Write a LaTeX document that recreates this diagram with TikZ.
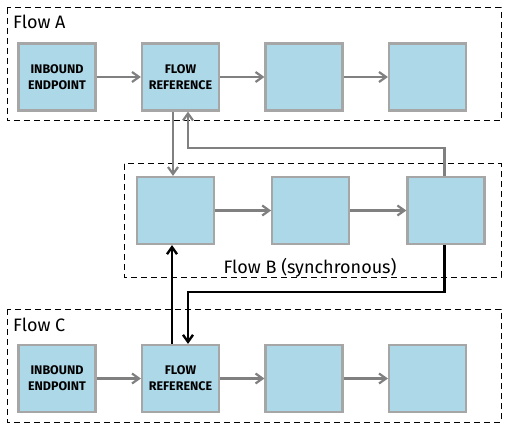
\documentclass[tikz,border=0pt]{standalone}
\usepackage{fontspec}
\setmainfont{Fira Sans}
\usetikzlibrary{positioning, arrows.meta}
\definecolor{boxblue}{HTML}{ADD8E8}
\definecolor{boxgray}{HTML}{A6A6A6}
\definecolor{linegray}{HTML}{808080}

\begin{document}
\begin{tikzpicture}[x=1pt, y=-1pt,
	block/.style={draw=boxgray, fill=boxblue, line width=2.2pt,
		minimum width=77pt, minimum height=67pt, inner sep=0pt,
		align=center, font=\fontsize{12.5}{16}\selectfont\bfseries},
	flow/.style={draw, dash pattern=on 6pt off 4pt, line width=1pt},
	title/.style={font=\fontsize{18}{20}\selectfont, inner sep=0pt},
	link/.style={draw=linegray, line width=2.2pt,
		-{Straight Barb[length=7pt, width=10pt]}},
	call/.style={draw=black, line width=2.4pt,
		-{Straight Barb[length=7pt, width=10pt]}},
	node distance=44.3pt]

\useasboundingbox (0,0) rectangle (507,428);

% flows
\draw[flow] (7,8) rectangle (501,121);
\draw[flow] (124,164) rectangle (501,277);
\draw[flow] (7,309) rectangle (501,422);

\node[title, anchor=base west] (titleA) at (13,29) {Flow A};
\node[title, anchor=base] (titleB) at (310,273) {Flow B (synchronous)};
\node[title, anchor=base west] (titleC) at (13,331) {Flow C};

% flow A
\node[block] (a1) at (57,77) {INBOUND\\ENDPOINT};
\node[block, right=of a1] (a2) {FLOW\\REFERENCE};
\node[block, right=of a2] (a3) {};
\node[block, right=of a3] (a4) {};

% flow B
\node[block] (b1) at (175.5,210.5) {};
\node[block, right=56pt of b1] (b2) {};
\node[block, right=56pt of b2] (b3) {};

% flow C
\node[block] (c1) at (57,378.5) {INBOUND\\ENDPOINT};
\node[block, right=of c1] (c2) {FLOW\\REFERENCE};
\node[block, right=of c2] (c3) {};
\node[block, right=of c3] (c4) {};

\coordinate (backA) at (0,148);
\coordinate (backC) at (0,292);

\draw[link] (a1) -- (a2);
\draw[link] (a2) -- (a3);
\draw[link] (a3) -- (a4);
\draw[link] (b1) -- (b2);
\draw[link] (b2) -- (b3);
\draw[link] (c1) -- (c2);
\draw[link] (c2) -- (c3);
\draw[link] (c3) -- (c4);

% A calls B
\draw[link] ([xshift=-7.5pt]a2.south) -- ([xshift=-7.5pt]a2.south |- b1.north);
\draw[link] ([xshift=-1.5pt]b3.north) -- ([xshift=-1.5pt]b3.north |- backA)
	-| ([xshift=7.5pt]a2.south);

% C calls B
\draw[call] ([xshift=-8.5pt]c2.north) -- ([xshift=-8.5pt]c2.north |- b1.south);
\draw[call] ([xshift=-1.5pt]b3.south) -- ([xshift=-1.5pt]b3.south |- backC)
	-| ([xshift=7.5pt]c2.north);
\end{tikzpicture}
\end{document}
